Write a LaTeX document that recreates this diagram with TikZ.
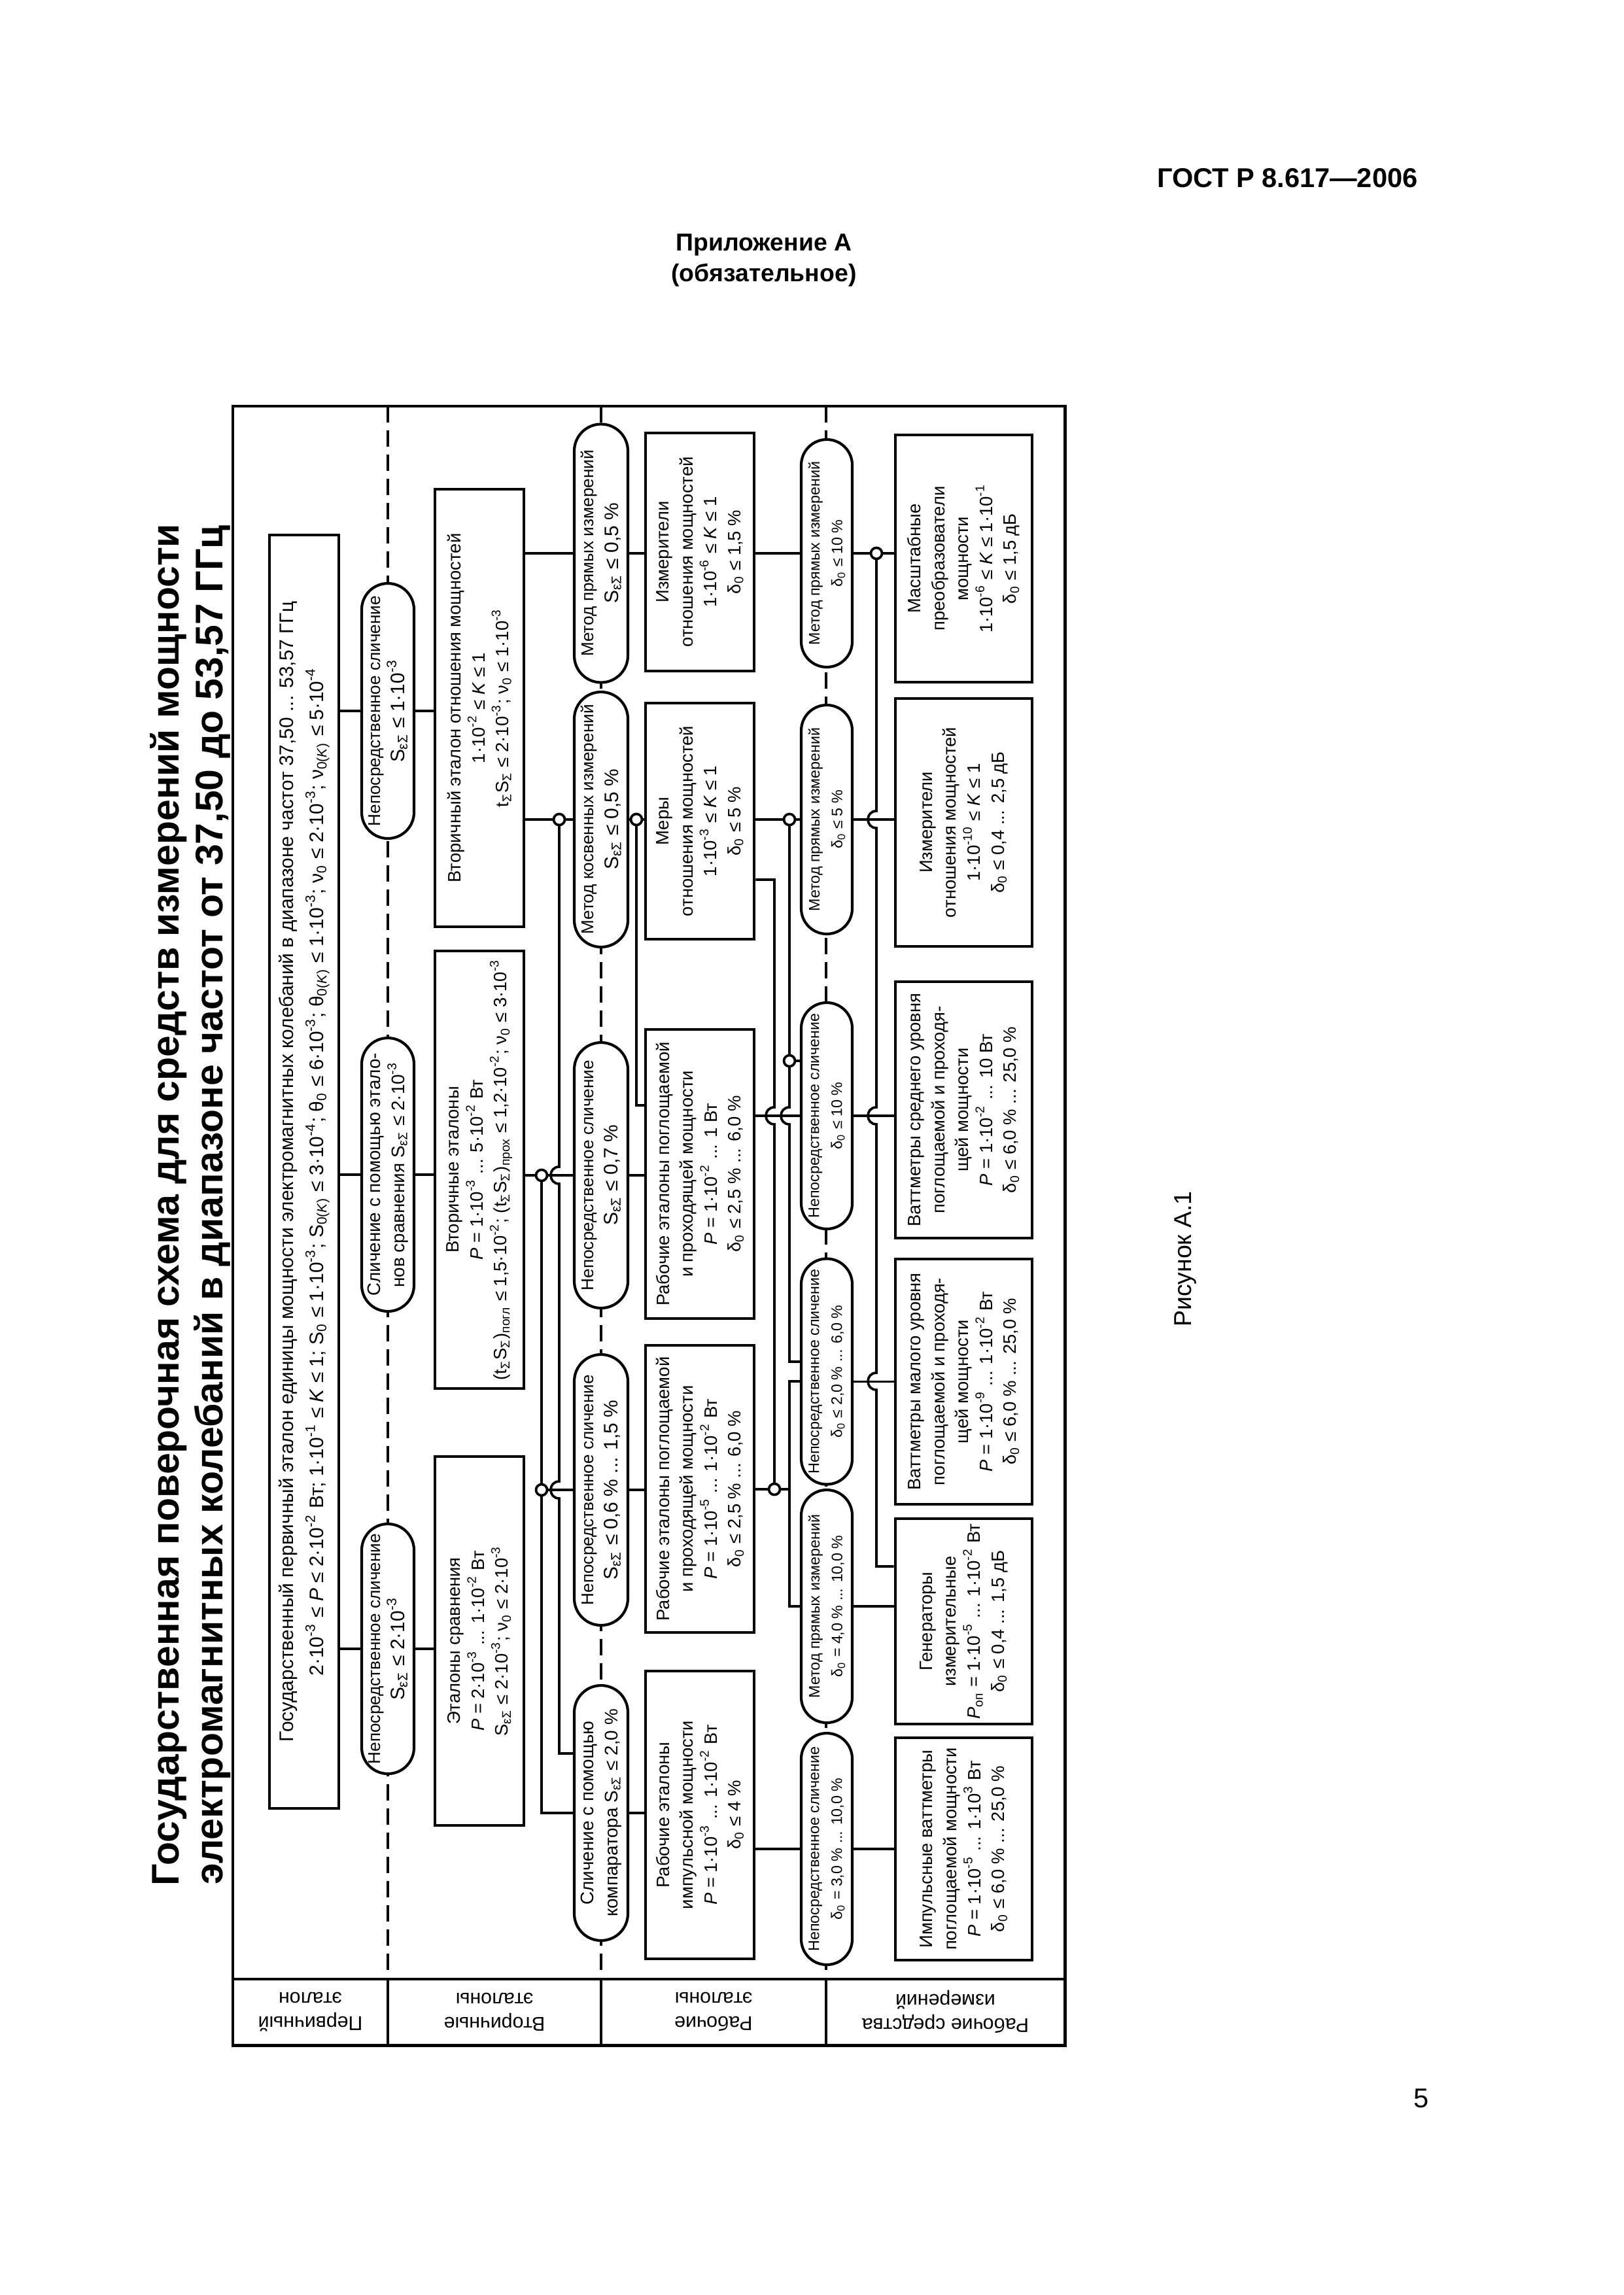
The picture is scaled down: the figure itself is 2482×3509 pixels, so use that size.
\documentclass[tikz,border=0pt]{standalone}
\usepackage{fontspec}
\setmainfont{Liberation Sans}
\newdimen\px \px=0.08461mm
\newcommand\tpow[2]{#1·10\textsuperscript{#2}}
\newcommand\SeS{S\textsubscript{εΣ}}
\newcommand\dzero{δ\textsubscript{0}}
\newcommand\nuzero{ν\textsubscript{0}}
\newcommand\tSig{t\textsubscript{Σ}S\textsubscript{Σ}}
\newcommand\fsz[2]{\fontsize{#1}{#2}\selectfont}
\begin{document}
\begin{tikzpicture}[x=0.08461mm, y=-0.08461mm,
 bx/.style={draw, line width=1.1pt, fill=white, rotate=90, inner sep=1pt, align=center, font=\fsz{6.6}{8.8}},
 pl/.style={draw, line width=1.0pt, fill=white, rotate=90, inner sep=0pt, align=center, rounded corners=40\px, minimum height=80\px, font=\fsz{6.3}{9}},
 plc/.style={pl, rounded corners=41\px, minimum height=82\px},
 plf/.style={pl, rounded corners=39\px, minimum height=78\px, font=\fsz{5.6}{8.4}},
 cn/.style={line width=0.9pt},
 jc/.style={circle, draw, fill=white, line width=0.9pt, minimum size=17\px, inner sep=0pt},
 sepl/.style={line width=0.9pt, dash pattern=on 6pt off 2.9pt},
 lab/.style={rotate=180, align=center, font=\fsz{7.3}{9}},
 hop/.style 2 args={insert path={-- (#1,#2-13) .. controls (#1-17.3,#2-13) and (#1-17.3,#2+13) .. (#1,#2+13)}}
]
\fill[white] (0,0) rectangle (2482,3509);
\useasboundingbox (0,0) rectangle (2482,3509);

% page texts
\node[anchor=east, font=\bfseries\fsz{10}{12}] (hdr) at (2182,272) {ГОСТ Р 8.617—2006};
\node[align=center, font=\bfseries\fsz{9}{11.3}] (app) at (1168,398) {Приложение А\\(обязательное)};
\node[rotate=90, align=center, font=\bfseries\fsz{14.2}{16}] (title) at (291,1842) {Государственная поверочная схема для средств измерений мощности\\электромагнитных колебаний в диапазоне частот от 37,50 до 53,57 ГГц};
\node[rotate=90, font=\fsz{9}{11}] (fig) at (1812,1925) {Рисунок А.1};
\node[font=\fsz{10}{12}] (pg) at (2173,3208) {5};

% frame and separators
\draw[line width=1.2pt] (356,621) rectangle (1628,3127);
\draw[line width=1.1pt] (356,3026) -- (1628,3026);
\foreach \sx in {593,919,1263} {
  \draw[sepl] (\sx,621) -- (\sx,3026);
  \draw[line width=1.1pt] (\sx,3026) -- (\sx,3127);
}
\node[lab] (l1) at (474.5,3076) {Первичный\\эталон};
\node[lab] (l2) at (756,3076) {Вторичные\\эталоны};
\node[lab] (l3) at (1091,3076) {Рабочие\\эталоны};
\node[lab] (l4) at (1445.5,3076) {Рабочие средства\\измерений};

% primary
\node[bx, minimum width=1947\px, minimum height=106\px, font=\fsz{7.2}{11}] (PR) at (465,1791.5) {Государственный первичный эталон единицы мощности электромагнитных колебаний в диапазоне частот 37,50 ... 53,57 ГГц\\\tpow{2}{-3} ≤ \textit{P} ≤ \tpow{2}{-2} Вт; \tpow{1}{-1} ≤ \textit{K} ≤ 1; S\textsubscript{0} ≤ \tpow{1}{-3}; S\textsubscript{0(\textit{K})} ≤ \tpow{3}{-4}; θ\textsubscript{0} ≤ \tpow{6}{-3}; θ\textsubscript{0(\textit{K})} ≤ \tpow{1}{-3}; \nuzero{} ≤ \tpow{2}{-3}; ν\textsubscript{0(\textit{K})} ≤ \tpow{5}{-4}};

% row 2 pills
\node[pl, minimum width=390\px] (A) at (593,1087) {Непосредственное сличение\\{\fsz{7.2}{9}\SeS{} ≤ \tpow{1}{-3}}};
\node[pl, minimum width=418\px, font=\fsz{6.7}{9}] (K) at (593,1796) {Сличение с помощью этало-\\нов сравнения \SeS{} ≤ \tpow{2}{-3}};
\node[pl, minimum width=382\px] (P) at (593,2521) {Непосредственное сличение\\{\fsz{7.2}{9}\SeS{} ≤ \tpow{2}{-3}}};
% row 2 boxes
\node[bx, minimum width=669\px, minimum height=136\px] (B) at (733,1082.5) {Вторичный эталон отношения мощностей\\\tpow{1}{-2} ≤ \textit{K} ≤ 1\\\tSig{} ≤ \tpow{2}{-3}; \nuzero{} ≤ \tpow{1}{-3}};
\node[bx, minimum width=669\px, minimum height=136\px] (L) at (733,1788.5) {Вторичные эталоны\\\textit{P} = \tpow{1}{-3} ... \tpow{5}{-2} Вт\\(\tSig)\textsubscript{погл} ≤ \tpow{1,5}{-2}; (\tSig)\textsubscript{прох} ≤ \tpow{1,2}{-2}; \nuzero{} ≤ \tpow{3}{-3}};
\node[bx, minimum width=564\px, minimum height=136\px] (Q) at (733,2509) {Эталоны сравнения\\\textit{P} = \tpow{2}{-3} ... \tpow{1}{-2} Вт\\\SeS{} ≤ \tpow{2}{-3}; \nuzero{} ≤ \tpow{2}{-3}};

% row 3 pills
\node[plc, minimum width=395\px] (C) at (919,846) {Метод прямых измерений\\{\fsz{7.2}{9}\SeS{} ≤ 0,5 \%}};
\node[plc, minimum width=390\px] (D) at (919,1253) {Метод косвенных измерений\\{\fsz{7.2}{9}\SeS{} ≤ 0,5 \%}};
\node[plc, minimum width=406\px] (M) at (919,1797) {Непосредственное сличение\\{\fsz{7.2}{9}\SeS{} ≤ 0,7 \%}};
\node[plc, minimum width=414\px] (R) at (919,2278) {Непосредственное сличение\\{\fsz{7.2}{9}\SeS{} ≤ 0,6 \% ... 1,5 \%}};
\node[plc, minimum width=390\px, font=\fsz{6.7}{9}] (T) at (919,2772) {Сличение с помощью\\компаратора \SeS{} ≤ 2,0 \%};
% row 3 boxes
\node[bx, minimum width=364\px, minimum height=166\px] (E) at (1070,844) {Измерители\\отношения мощностей\\\tpow{1}{-6} ≤ \textit{K} ≤ 1\\\dzero{} ≤ 1,5 \%};
\node[bx, minimum width=361\px, minimum height=166\px] (F) at (1070,1255.5) {Меры\\отношения мощностей\\\tpow{1}{-3} ≤ \textit{K} ≤ 1\\\dzero{} ≤ 5 \%};
\node[bx, minimum width=442\px, minimum height=166\px] (N) at (1070,1795) {Рабочие эталоны поглощаемой\\и проходящей мощности\\\textit{P} = \tpow{1}{-2} ... 1 Вт\\\dzero{} ≤ 2,5 \% ... 6,0 \%};
\node[bx, minimum width=439\px, minimum height=166\px] (S) at (1070,2276.5) {Рабочие эталоны поглощаемой\\и проходящей мощности\\\textit{P} = \tpow{1}{-5} ... \tpow{1}{-2} Вт\\\dzero{} ≤ 2,5 \% ... 6,0 \%};
\node[bx, minimum width=440\px, minimum height=166\px] (U) at (1070,2775) {Рабочие эталоны\\импульсной мощности\\\textit{P} = \tpow{1}{-3} ... \tpow{1}{-2} Вт\\\dzero{} ≤ 4 \%};

% row 4 pills
\node[plf, minimum width=348\px] (G) at (1264,846) {Метод прямых измерений\\\dzero{} ≤ 10 \%};
\node[plf, minimum width=350\px] (I) at (1264,1253) {Метод прямых измерений\\\dzero{} ≤ 5 \%};
\node[plf, minimum width=346\px] (V) at (1264,1706) {Непосредственное сличение\\\dzero{} ≤ 10 \%};
\node[plf, minimum width=345\px] (W) at (1264,2097) {Непосредственное сличение\\\dzero{} ≤ 2,0 \% ... 6,0 \%};
\node[plf, minimum width=356\px] (X) at (1264,2456) {Метод прямых измерений\\\dzero{} = 4,0 \% ... 10,0 \%};
\node[plf, minimum width=354\px] (Y) at (1264,2827) {Непосредственное сличение\\\dzero{} = 3,0 \% ... 10,0 \%};
% row 4 boxes
\node[bx, minimum width=378\px, minimum height=209\px] (H) at (1473.5,854) {Масштабные\\преобразователи\\мощности\\\tpow{1}{-6} ≤ \textit{K} ≤ \tpow{1}{-1}\\\dzero{} ≤ 1,5 дБ};
\node[bx, minimum width=379\px, minimum height=209\px] (J) at (1473.5,1257.5) {Измерители\\отношения мощностей\\\tpow{1}{-10} ≤ \textit{K} ≤ 1\\\dzero{} ≤ 0,4 ... 2,5 дБ};
\node[bx, minimum width=392\px, minimum height=209\px] (Z1) at (1473.5,1697) {Ваттметры среднего уровня\\поглощаемой и проходя-\\щей мощности\\\textit{P} = \tpow{1}{-2} ... 10 Вт\\\dzero{} ≤ 6,0 \% ... 25,0 \%};
\node[bx, minimum width=375\px, minimum height=209\px] (Z2) at (1473.5,2112.5) {Ваттметры малого уровня\\поглощаемой и проходя-\\щей мощности\\\textit{P} = \tpow{1}{-9} ... \tpow{1}{-2} Вт\\\dzero{} ≤ 6,0 \% ... 25,0 \%};
\node[bx, minimum width=314\px, minimum height=209\px] (Z3) at (1473.5,2479) {Генераторы\\измерительные\\\textit{P}\textsubscript{оп} = \tpow{1}{-5} ... \tpow{1}{-2} Вт\\\dzero{} ≤ 0,4 ... 1,5 дБ};
\node[bx, minimum width=340\px, minimum height=209\px] (Z4) at (1473.5,2827) {Импульсные ваттметры\\поглощаемой мощности\\\textit{P} = \tpow{1}{-5} ... \tpow{1}{3} Вт\\\dzero{} ≤ 6,0 \% ... 25,0 \%};

% junction coordinates
\coordinate (j1) at (855,1253);
\coordinate (j2) at (973,1253);
\coordinate (j3) at (828,1797);
\coordinate (j4) at (828,2278);
\coordinate (j5) at (1340,846);
\coordinate (j6) at (1207,1253);
\coordinate (j7) at (1207,1622);
\coordinate (j8) at (1184,2277);

% primary -> row 2
\draw[cn] (PR.south |- A) -- (A.north);
\draw[cn] (A.south) -- (A.south -| B.north);
\draw[cn] (PR.south |- K) -- (K.north);
\draw[cn] (K.south) -- (K.south -| L.north);
\draw[cn] (PR.south |- P) -- (P.north);
\draw[cn] (P.south) -- (P.south -| Q.north);

% row 2 -> row 3
\draw[cn] (B.south |- C) -- (C.north);
\draw[cn] (B.south |- D) -- (D.north);
\draw[cn] (L.south |- M) -- (M.north);
\draw[cn] (j4) -- (R.north);
\draw[cn] (j1) [hop={855}{1797}] [hop={855}{2278}] -- (855,2681) -- (T.north |- 0,2681);
\draw[cn] (j3) -- (j3 |- T) -- (T.north);
\draw[cn] (j2) -- (973,1690) -- (N.north |- 0,1690);

% row 3 pills -> row 3 boxes
\draw[cn] (C.south) -- (C.south -| E.north);
\draw[cn] (D.south) -- (D.south -| F.north);
\draw[cn] (M.south) -- (M.south -| N.north);
\draw[cn] (R.south) -- (R.south -| S.north);
\draw[cn] (T.south) -- (T.south -| U.north);

% row 3 boxes -> row 4
\draw[cn] (E.south |- G) -- (G.north);
\draw[cn] (G.south) -- (G.south -| H.north);
\draw[cn] (F.south |- I) -- (I.north);
\draw[cn] (I.south) -- (I.south -| J.north);
\draw[cn] (N.south |- V) -- (V.north);
\draw[cn] (V.south) -- (V.south -| Z1.north);
\draw[cn] (W.south |- Z2) -- (Z2.north);
\draw[cn] (X.south) -- (X.south -| Z3.north);
\draw[cn] (U.south |- Y) -- (Y.north);
\draw[cn] (Y.south) -- (Y.south -| Z4.north);
\draw[cn] (j5) [hop={1340}{1253}] [hop={1340}{1706}] [hop={1340}{2112}] -- (1340,2395) -- (Z3.north |- 0,2395);
\draw[cn] (j6) [hop={1207}{1706}] -- (1207,2082) -- (W.north |- 0,2082);
\draw[cn] (j7) -- (V.north |- j7);
\draw[cn] (F.south |- 0,1345) -- (1184,1345) [hop={1184}{1706}] -- (j8);
\draw[cn] (S.south |- j8) -- (1207,2277);
\draw[cn] (W.north |- 0,2112) -- (1207,2112) -- (1207,2456) -- (X.north);

% junction circles
\foreach \jn in {j1,j2,j3,j4,j5,j6,j7,j8} { \node[jc] (c\jn) at (\jn) {}; }
\end{tikzpicture}
\end{document}
